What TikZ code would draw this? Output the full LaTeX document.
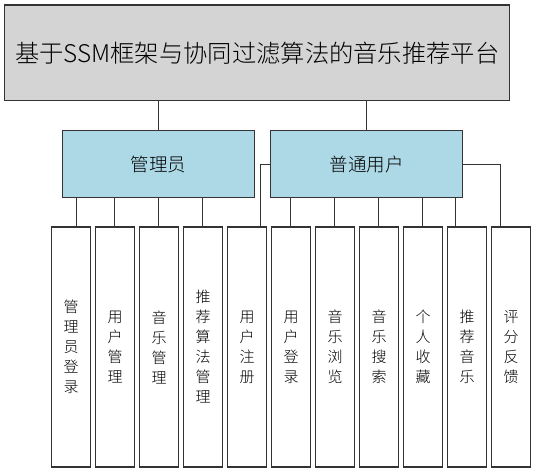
\documentclass[tikz,border=0pt]{standalone}
\usepackage{fontspec}
\setmainfont{Noto Sans CJK SC}[UprightFont=* Light]
\usetikzlibrary{positioning}
\definecolor{topgray}{HTML}{D4D4D4}
\definecolor{midblue}{HTML}{ADD8E6}
\definecolor{edge}{HTML}{333333}
\tikzset{
  topbox/.style={draw=edge, fill=topgray, line width=1.3pt, minimum width=505pt, minimum height=95.5pt, inner sep=0pt, font=\fontsize{24.3}{28}\selectfont},
  midbox/.style={draw=edge, fill=midblue, line width=1.3pt, minimum width=192pt, minimum height=67pt, inner sep=0pt, font=\fontsize{18.5}{22}\selectfont},
  leafbox/.style={draw=edge, fill=white, line width=1.3pt, minimum width=38.7pt, minimum height=240pt, inner sep=0pt, align=center, font=\fontsize{15}{20}\selectfont},
  link/.style={line width=1.3pt, draw=edge}
}
\begin{document}
\begin{tikzpicture}[x=1pt,y=-1pt]
\useasboundingbox (0,0) rectangle (535,473);
\node[topbox] (top) at (257.2,52.8) {基于SSM框架与协同过滤算法的音乐推荐平台};
\node[midbox] (adm) at (158.7,164.2) {管理员};
\node[midbox] (usr) at (366.7,164.2) {普通用户};
\foreach \i/\t in {1/管\\理\\员\\登\\录, 2/用\\户\\管\\理, 3/音\\乐\\管\\理, 4/推\\荐\\算\\法\\管\\理, 5/用\\户\\注\\册, 6/用\\户\\登\\录, 7/音\\乐\\浏\\览, 8/音\\乐\\搜\\索, 9/个\\人\\收\\藏, 10/推\\荐\\音\\乐, 11/评\\分\\反\\馈}{
  \node[leafbox] (b\i) at ({71.05+44*(\i-1)},347) {\t};
}
% top to middle
\draw[link] (top.south -| adm) -- (adm.north);
\draw[link] (top.south -| usr) -- (usr.north);
% admin branches
\foreach \i/\x in {1/76.3, 2/114.7, 3/158.7, 4/202.3}{
  \coordinate (ax\i) at (\x,0);
  \draw[link] (adm.south -| ax\i) -- (b\i.north -| ax\i);
}
% user branches
\foreach \i/\x in {6/290.7, 7/334.7, 8/378.7, 9/422.7, 10/455.7}{
  \coordinate (ux\i) at (\x,0);
  \draw[link] (usr.south -| ux\i) -- (b\i.north -| ux\i);
}
\coordinate (rx5) at (260.3,0);
\coordinate (rx11) at (500.7,0);
\draw[link] (usr.west) -- (usr.west -| rx5) -- (b5.north -| rx5);
\draw[link] (usr.east) -- (usr.east -| rx11) -- (b11.north -| rx11);
\end{tikzpicture}
\end{document}
